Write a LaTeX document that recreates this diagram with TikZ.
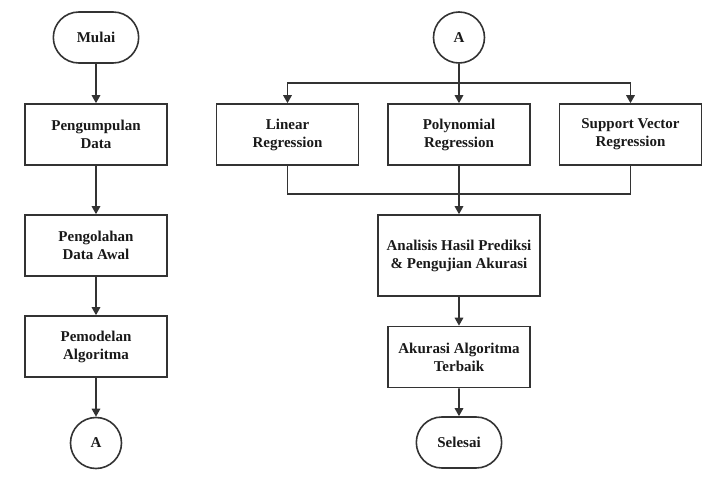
\documentclass[tikz,border=0pt]{standalone}
\usepackage{fontspec}
\setmainfont{Liberation Serif}
\usetikzlibrary{positioning, arrows.meta, shapes.misc}
\tikzstyle{process} = [rectangle, minimum width=142pt, minimum height=61pt, text centered, align=center, draw=black!80, line width=1.6pt]
\tikzstyle{terminal} = [rounded rectangle, minimum width=92pt, minimum height=51pt, draw=black!80, line width=1.6pt]
\tikzstyle{connector} = [circle, minimum size=51pt, inner sep=0pt, draw=black!80, line width=1.6pt]
\tikzstyle{arrow} = [line width=1.6pt, draw=black!80, -{Triangle[length=8pt,width=8.5pt]}]
\tikzstyle{line} = [line width=1.6pt, draw=black!80]

\begin{document}
\begin{tikzpicture}[x=1pt, y=-1pt, node distance=97pt and 171.5pt, on grid, font=\fontsize{15}{18}\selectfont\bfseries, text=black!90]
	\useasboundingbox (0,0) rectangle (713,479);

	% kolom kiri
	\node (mulai) [terminal] at (96,37.5) {Mulai};
	\node (kumpul) [process, below=97pt of mulai] {Pengumpulan\\Data};
	\node (olah) [process, below=111pt of kumpul] {Pengolahan\\Data Awal};
	\node (model) [process, below=101pt of olah] {Pemodelan\\Algoritma};
	\node (akiri) [connector, below=96.5pt of model] {A};

	% kolom kanan
	\node (akanan) [connector] at (459,37.5) {A};
	\node (poly) [process, below=97pt of akanan] {Polynomial\\Regression};
	\node (linear) [process, left=of poly] {Linear\\Regression};
	\node (svr) [process, right=of poly] {Support Vector\\Regression};
	\node (analisis) [process, minimum width=162pt, minimum height=81pt, below=121pt of poly] {Analisis Hasil Prediksi\\\& Pengujian Akurasi};
	\node (akurasi) [process, below=101.5pt of analisis] {Akurasi Algoritma\\Terbaik};
	\node (selesai) [terminal, below=85.5pt of akurasi] {Selesai};

	\coordinate (cabang) at (459,83);
	\coordinate (gabung) at (459,194);

	\draw [arrow] (mulai) -- (kumpul);
	\draw [arrow] (kumpul) -- (olah);
	\draw [arrow] (olah) -- (model);
	\draw [arrow] (model) -- (akiri);

	\draw [arrow] (akanan) -- (poly);
	\draw [arrow] (cabang) -| (linear);
	\draw [arrow] (cabang) -| (svr);
	\draw [line] (linear) |- (gabung);
	\draw [line] (svr) |- (gabung);
	\draw [arrow] (poly) -- (analisis);
	\draw [arrow] (analisis) -- (akurasi);
	\draw [arrow] (akurasi) -- (selesai);

\end{tikzpicture}
\end{document}
